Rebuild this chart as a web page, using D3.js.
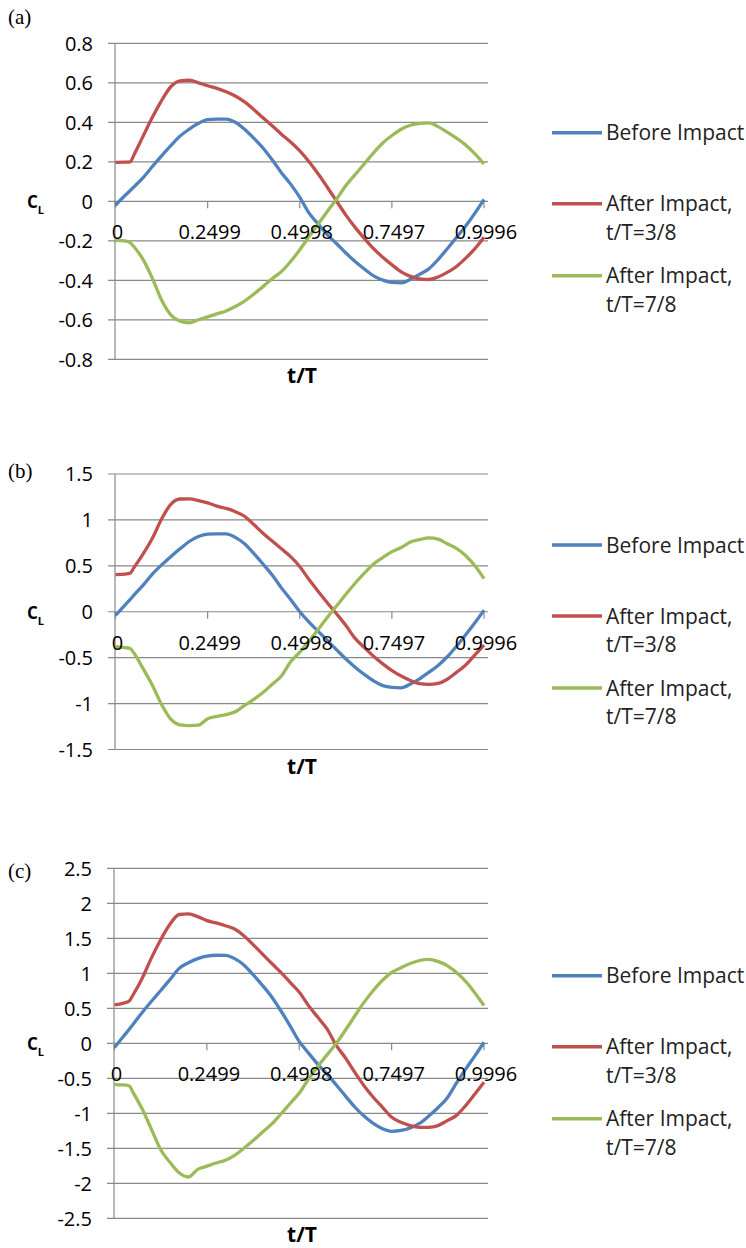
<!DOCTYPE html>
<html>
	<head>
		<title>CL vs t/T</title>
		<style>
			body,html
			{
				margin:0px;
				background:#fff;
			}
			text
			{
				font-family:'Open Sans', sans-serif;
			}
		</style>
		<script src='https://cdn.jsdelivr.net/npm/d3@7/dist/d3.min.js'></script>
	</head>
	<body>
	<svg id='chart' width='746' height='1248'></svg>
	<script>

		// sample times (t/T), shared by every series
		var tValues = [0, 0.025, 0.04, 0.05, 0.075, 0.1, 0.125, 0.15, 0.175, 0.2, 0.225, 0.25, 0.275, 0.3, 0.325, 0.35, 0.375, 0.4, 0.425, 0.45, 0.475,
			0.5, 0.525, 0.55, 0.575, 0.6, 0.625, 0.65, 0.675, 0.7, 0.725, 0.75, 0.775, 0.8, 0.825, 0.85, 0.875, 0.9, 0.925, 0.95, 0.975, 0.9996];

		// panel (a)
		var blueA = [-0.02, 0.028, 0.055, 0.073, 0.12, 0.176, 0.23, 0.282, 0.33, 0.365, 0.395, 0.414, 0.416, 0.416, 0.40, 0.365, 0.32, 0.27, 0.21, 0.145, 0.087,
			0.02, -0.06, -0.115, -0.17, -0.215, -0.262, -0.305, -0.343, -0.378, -0.399, -0.411, -0.413, -0.395, -0.37, -0.342, -0.295, -0.24, -0.183, -0.125, -0.06, 0.01];
		var redA = [0.197, 0.198, 0.2, 0.235, 0.33, 0.425, 0.51, 0.58, 0.61, 0.613, 0.6, 0.585, 0.572, 0.555, 0.533, 0.503, 0.465, 0.423, 0.382, 0.34, 0.30,
			0.255, 0.2, 0.138, 0.07, 0.0, -0.07, -0.132, -0.188, -0.24, -0.283, -0.322, -0.357, -0.38, -0.393, -0.396, -0.383, -0.36, -0.33, -0.288, -0.24, -0.182];
		var greenA = [-0.198, -0.2, -0.21, -0.23, -0.295, -0.39, -0.5, -0.575, -0.607, -0.615, -0.6, -0.585, -0.57, -0.555, -0.533, -0.505, -0.47, -0.432, -0.392, -0.356, -0.305,
			-0.245, -0.178, -0.115, -0.05, 0.012, 0.08, 0.135, 0.19, 0.245, 0.295, 0.333, 0.365, 0.385, 0.395, 0.397, 0.378, 0.35, 0.32, 0.285, 0.24, 0.189];

		// panel (b)
		var blueB = [-0.04, 0.07, 0.135, 0.18, 0.29, 0.41, 0.51, 0.60, 0.685, 0.765, 0.82, 0.845, 0.848, 0.847, 0.81, 0.74, 0.635, 0.52, 0.40, 0.26, 0.134,
			0.0, -0.113, -0.214, -0.315, -0.416, -0.515, -0.604, -0.683, -0.753, -0.804, -0.823, -0.828, -0.787, -0.73, -0.66, -0.585, -0.49, -0.375, -0.25, -0.12, 0.018];
		var redB = [0.405, 0.41, 0.42, 0.48, 0.63, 0.80, 1.01, 1.17, 1.228, 1.23, 1.21, 1.185, 1.15, 1.125, 1.09, 1.04, 0.95, 0.855, 0.77, 0.685, 0.60,
			0.49, 0.35, 0.22, 0.095, -0.025, -0.15, -0.29, -0.39, -0.485, -0.567, -0.64, -0.70, -0.748, -0.783, -0.79, -0.78, -0.735, -0.66, -0.58, -0.47, -0.364];
		var greenB = [-0.38, -0.39, -0.40, -0.45, -0.62, -0.80, -1.01, -1.17, -1.232, -1.24, -1.235, -1.165, -1.14, -1.12, -1.09, -1.02, -0.955, -0.88, -0.79, -0.70, -0.545,
			-0.44, -0.32, -0.19, -0.06, 0.065, 0.19, 0.31, 0.42, 0.52, 0.59, 0.655, 0.70, 0.76, 0.785, 0.805, 0.79, 0.74, 0.69, 0.61, 0.50, 0.36];

		// panel (c)
		var blueC = [-0.06, 0.105, 0.2, 0.27, 0.44, 0.60, 0.755, 0.91, 1.07, 1.15, 1.21, 1.245, 1.258, 1.255, 1.21, 1.12, 0.98, 0.83, 0.665, 0.465, 0.25,
			0.025, -0.14, -0.30, -0.44, -0.595, -0.755, -0.91, -1.04, -1.145, -1.22, -1.257, -1.245, -1.21, -1.145, -1.04, -0.92, -0.78, -0.57, -0.37, -0.18, 0.015];
		var redC = [0.55, 0.575, 0.605, 0.69, 0.93, 1.22, 1.48, 1.70, 1.84, 1.848, 1.81, 1.752, 1.72, 1.68, 1.633, 1.538, 1.41, 1.276, 1.143, 1.014, 0.871,
			0.729, 0.538, 0.371, 0.205, -0.03, -0.21, -0.414, -0.605, -0.77, -0.914, -1.057, -1.129, -1.176, -1.2, -1.2, -1.176, -1.105, -1.03, -0.89, -0.724, -0.557];
		var greenC = [-0.59, -0.595, -0.61, -0.70, -0.94, -1.23, -1.52, -1.70, -1.85, -1.91, -1.80, -1.755, -1.71, -1.67, -1.60, -1.50, -1.39, -1.27, -1.155, -1.01, -0.86,
			-0.71, -0.51, -0.33, -0.165, 0.0, 0.19, 0.39, 0.585, 0.755, 0.90, 1.014, 1.08, 1.14, 1.183, 1.20, 1.17, 1.11, 1.01, 0.885, 0.72, 0.54];

		// axes
		var xTickValues = [0, 0.2499, 0.4998, 0.7497, 0.9996];
		var xTickLabels = ['0', '0.2499', '0.4998', '0.7497', '0.9996'];
		var yTicksA = [-0.8, -0.6, -0.4, -0.2, 0, 0.2, 0.4, 0.6, 0.8];
		var yTicksB = [-1.5, -1, -0.5, 0, 0.5, 1, 1.5];
		var yTicksC = [-2.5, -2, -1.5, -1, -0.5, 0, 0.5, 1, 1.5, 2, 2.5];

		var seriesNames = ['Before Impact', 'After Impact,|t/T=3/8', 'After Impact,|t/T=7/8'];
		var seriesColors = ['#4F81BD', '#C0504D', '#9BBB59'];

		var panels = [
			{ tag:'(a)', tagY:24, top:43.3, bottom:359.3, left:115, ticks:yTicksA, series:[blueA, redA, greenA], legendY:132.7 },
			{ tag:'(b)', tagY:478, top:474, bottom:749.5, left:115, ticks:yTicksB, series:[blueB, redB, greenB], legendY:545 },
			{ tag:'(c)', tagY:878, top:868.3, bottom:1218.3, left:114, ticks:yTicksC, series:[blueC, redC, greenC], legendY:975.7 }
		];

		var svg = d3.select('#chart');
		var gridRight = 488;

		panels.forEach(function(p)
		{
			var g = svg.append('g');
			var ext = d3.extent(p.ticks);

			var x = d3.scaleLinear().domain([0, 0.9996]).range([p.left + 0.5, 484]);
			var y = d3.scaleLinear().domain(ext).range([p.bottom, p.top]);

			// horizontal gridlines, reaching left past the axis as tick marks
			g.selectAll('line.grid').data(p.ticks).enter()
				.append('line')
				.attr('class', 'grid')
				.attr('x1', p.left - 7)
				.attr('x2', gridRight)
				.attr('y1', function(d){ return y(d); })
				.attr('y2', function(d){ return y(d); })
				.style('stroke', '#898989')
				.style('stroke-width', 1.2);

			// vertical axis line
			g.append('line')
				.attr('x1', p.left).attr('x2', p.left)
				.attr('y1', y(ext[1])).attr('y2', y(ext[0]))
				.style('stroke', '#898989')
				.style('stroke-width', 1.2);

			// y tick labels
			g.selectAll('text.ylab').data(p.ticks).enter()
				.append('text')
				.attr('class', 'ylab')
				.attr('x', p.left - 22)
				.attr('y', function(d){ return y(d); })
				.attr('dy', '0.36em')
				.attr('text-anchor', 'end')
				.style('font-size', '20px')
				.text(function(d){ return String(d); });

			// category ticks below the zero line
			g.selectAll('line.xtick').data(xTickValues).enter()
				.append('line')
				.attr('class', 'xtick')
				.attr('x1', function(d){ return x(d); })
				.attr('x2', function(d){ return x(d); })
				.attr('y1', y(0))
				.attr('y2', y(0) + 7)
				.style('stroke', '#898989')
				.style('stroke-width', 1.2);

			// series
			var line = d3.line()
				.x(function(d, i){ return x(tValues[i]); })
				.y(function(d){ return y(d); })
				.curve(d3.curveMonotoneX);

			g.selectAll('path.series').data(p.series).enter()
				.append('path')
				.attr('class', 'series')
				.attr('d', function(d){ return line(d); })
				.style('fill', 'none')
				.style('stroke', function(d, i){ return seriesColors[i]; })
				.style('stroke-width', 3.3)
				.style('stroke-linejoin', 'round');

			// x tick labels, drawn over the lines
			g.selectAll('text.xlab').data(xTickValues).enter()
				.append('text')
				.attr('class', 'xlab')
				.attr('x', function(d){ return x(d) + 2; })
				.attr('y', y(0) + 38)
				.attr('text-anchor', 'middle')
				.style('font-size', '20px')
				.text(function(d, i){ return xTickLabels[i]; });

			// axis titles
			g.append('text')
				.attr('x', 302)
				.attr('y', p.bottom + 24)
				.attr('text-anchor', 'middle')
				.style('font-size', '21px')
				.style('font-weight', 'bold')
				.text('t/T');

			var cl = g.append('text')
				.attr('x', 27)
				.attr('y', y(0) + 7)
				.style('font-weight', 'bold');
			cl.append('tspan').style('font-size', '17px').text('C');
			cl.append('tspan').attr('dy', 6).style('font-size', '11px').text('L');

			// panel tag
			g.append('text')
				.attr('x', 8)
				.attr('y', p.tagY)
				.style('font-family', "'Liberation Serif', serif")
				.style('font-size', '21px')
				.text(p.tag);

			// legend
			var legendOffsets = [0, 71, 143];
			var leg = g.selectAll('g.leg').data(seriesNames).enter()
				.append('g')
				.attr('class', 'leg')
				.attr('transform', function(d, i){ return 'translate(0,' + (p.legendY + legendOffsets[i]) + ')'; });

			leg.append('line')
				.attr('x1', 552).attr('x2', 602)
				.attr('y1', 0).attr('y2', 0)
				.style('stroke', function(d, i){ return seriesColors[i]; })
				.style('stroke-width', 3.5);

			leg.append('text')
				.attr('x', 606)
				.attr('y', 7.5)
				.style('font-size', '21px')
				.style('fill', '#222')
				.each(function(d)
				{
					var parts = d.split('|');
					var t = d3.select(this);
					parts.forEach(function(s, k)
					{
						t.append('tspan').attr('x', 606).attr('dy', k === 0 ? 0 : 28.5).text(s);
					});
				});
		});

	</script>
	</body>
</html>
